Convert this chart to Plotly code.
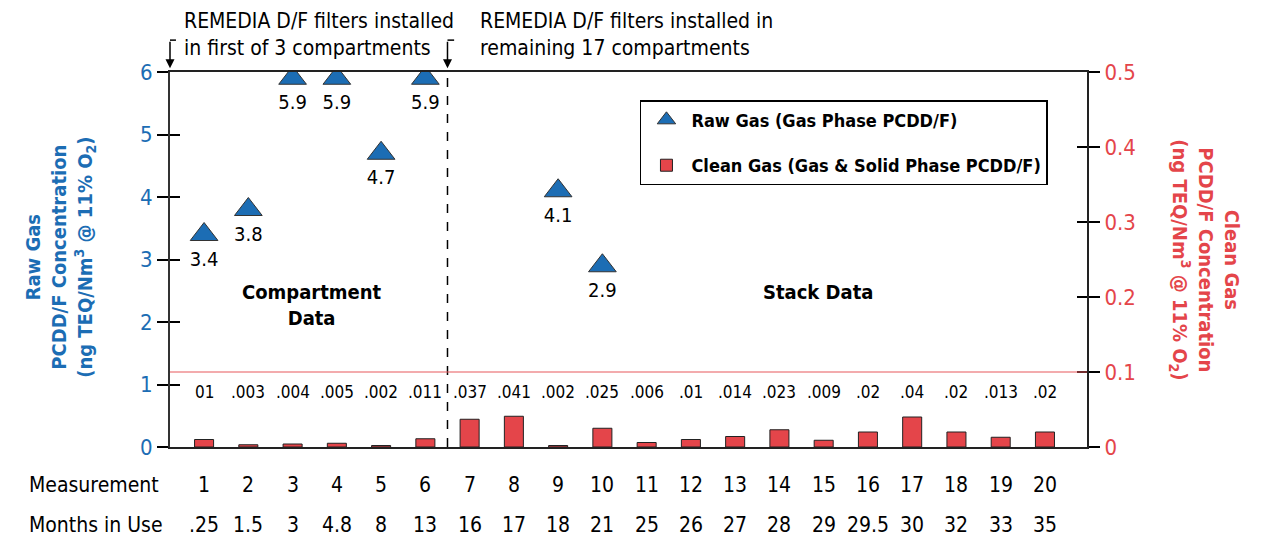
import plotly.graph_objects as go

measurements = list(range(1, 21))
months = [".25", "1.5", "3", "4.8", "8", "13", "16", "17", "18", "21",
          "25", "26", "27", "28", "29", "29.5", "30", "32", "33", "35"]
clean_gas = [0.01, 0.003, 0.004, 0.005, 0.002, 0.011, 0.037, 0.041, 0.002, 0.025,
             0.006, 0.01, 0.014, 0.023, 0.009, 0.02, 0.04, 0.02, 0.013, 0.02]
clean_labels = ["01", ".003", ".004", ".005", ".002", ".011", ".037", ".041", ".002", ".025",
                ".006", ".01", ".014", ".023", ".009", ".02", ".04", ".02", ".013", ".02"]
raw_x = [1, 2, 3, 4, 5, 6, 9, 10]
raw_gas = [3.4, 3.8, 5.9, 5.9, 4.7, 5.9, 4.1, 2.9]
raw_labels = ["3.4", "3.8", "5.9", "5.9", "4.7", "5.9", "4.1", "2.9"]

BLUE = "#1C6DB4"
RED = "#E4454A"
FONT = "DejaVu Sans Condensed, Liberation Sans Narrow, Arial Narrow, sans-serif"

fig = go.Figure()
fig.add_trace(go.Scatter(
    x=raw_x, y=raw_gas, mode="markers+text", text=raw_labels,
    textposition="bottom center", textfont=dict(size=20, color="black"),
    marker=dict(symbol="triangle-up", size=24, color=BLUE, line=dict(color="#333", width=1)),
    name="<b>Raw Gas (Gas Phase PCDD/F)</b>", legendgroup="raw", yaxis="y"))
fig.add_trace(go.Bar(
    x=measurements, y=clean_gas, width=0.43,
    marker=dict(color=RED, line=dict(color="#222", width=1)),
    name="<b>Clean Gas (Gas & Solid Phase PCDD/F)</b>", legendgroup="clean", yaxis="y2"))
# helper invisible traces for crossing ticks
fig.add_trace(go.Scatter(x=[1], y=[0], yaxis="y3", mode="markers",
                         marker=dict(opacity=0), showlegend=False, hoverinfo="skip"))
fig.add_trace(go.Scatter(x=[1], y=[0], yaxis="y4", mode="markers",
                         marker=dict(opacity=0), showlegend=False, hoverinfo="skip"))

annotations = []
for m, lab in zip(measurements, clean_labels):
    annotations.append(dict(x=m, y=0.147, xref="x", yref="paper", xanchor="center",
                            yanchor="middle", text=lab, showarrow=False,
                            font=dict(size=17, color="black", family=FONT)))
for m, mo in zip(measurements, months):
    annotations.append(dict(x=m, y=-0.101, xref="x", yref="paper", xanchor="center",
                            yanchor="middle", text=str(m), showarrow=False,
                            font=dict(size=21, color="black", family=FONT)))
    annotations.append(dict(x=m, y=-0.208, xref="x", yref="paper", xanchor="center",
                            yanchor="middle", text=mo, showarrow=False,
                            font=dict(size=21, color="black", family=FONT)))
annotations += [
    dict(x=-0.156, y=-0.101, xref="paper", yref="paper", xanchor="left", yanchor="middle",
         text="Measurement", showarrow=False, font=dict(size=21, color="black", family=FONT)),
    dict(x=-0.156, y=-0.208, xref="paper", yref="paper", xanchor="left", yanchor="middle",
         text="Months in Use", showarrow=False, font=dict(size=21, color="black", family=FONT)),
    dict(x=0.0131, y=1.101, xref="paper", yref="paper", xanchor="left", yanchor="middle", align="left",
         text="REMEDIA D/F filters installed<br>in first of 3 compartments", showarrow=False,
         font=dict(size=21, color="black", family=FONT)),
    dict(x=0.3359, y=1.101, xref="paper", yref="paper", xanchor="left", yanchor="middle", align="left",
         text="REMEDIA D/F filters installed in<br>remaining 17 compartments", showarrow=False,
         font=dict(size=21, color="black", family=FONT)),
    dict(x=3.44, y=2.27, xref="x", yref="y", text="<b>Compartment<br>Data</b>", showarrow=False,
         font=dict(size=20, color="black", family=FONT)),
    dict(x=14.87, y=2.48, xref="x", yref="y", text="<b>Stack Data</b>", showarrow=False,
         font=dict(size=20, color="black", family=FONT)),
    dict(x=-0.12, y=0.507, xref="paper", yref="paper", xanchor="center", yanchor="middle",
         textangle=-90,
         text="<b>Raw Gas<br>PCDD/F Concentration<br>(ng TEQ/Nm<sup>3</sup> @ 11% O<sub>2</sub>)</b>",
         showarrow=False, font=dict(size=20, color=BLUE, family=FONT)),
    dict(x=1.129, y=0.50, xref="paper", yref="paper", xanchor="center", yanchor="middle",
         textangle=90,
         text="<b>Clean Gas<br>PCDD/F Concentration<br>(ng TEQ/Nm<sup>3</sup> @ 11% O<sub>2</sub>)</b>",
         showarrow=False, font=dict(size=20, color=RED, family=FONT)),
    # arrows
    dict(x=0, y=1.01, xref="paper", yref="paper", ax=0, ay=-28, text="", showarrow=True,
         arrowhead=2, arrowsize=1.2, arrowwidth=1.5, arrowcolor="black"),
    dict(x=6.5, y=1.01, xref="x", yref="paper", ax=0, ay=-28, text="", showarrow=True,
         arrowhead=2, arrowsize=1.2, arrowwidth=1.5, arrowcolor="black"),
]

shapes = [
    dict(type="line", xref="x", yref="paper", x0=6.5, x1=6.5, y0=0, y1=1.0,
         line=dict(color="black", width=1.5, dash="dash")),
    dict(type="line", xref="paper", yref="y2", x0=0, x1=1, y0=0.1, y1=0.1,
         line=dict(color="#E8585C", width=1.2)),
    dict(type="line", xref="paper", yref="paper", x0=0, x1=0.0065, y0=1.085, y1=1.085,
         line=dict(color="black", width=1.5)),
    dict(type="line", xref="x", yref="paper", x0=6.5, x1=6.65, y0=1.085, y1=1.085,
         line=dict(color="black", width=1.5)),
]

fig.update_layout(
    width=1262, height=537,
    margin=dict(l=170, r=175, t=72, b=90),
    paper_bgcolor="white", plot_bgcolor="white",
    font=dict(family=FONT, color="black"),
    showlegend=True,
    legend=dict(x=0.5125, y=0.925, xanchor="left", yanchor="top",
                bordercolor="black", borderwidth=1.5, bgcolor="white",
                font=dict(size=18, family=FONT, color="black"),
                itemsizing="trace", tracegroupgap=19, itemwidth=40),
    xaxis=dict(range=[0.23, 20.95], showticklabels=False, ticks="", showgrid=False,
               zeroline=False, showline=True, mirror=True, linecolor="#222", linewidth=2),
    yaxis=dict(range=[0, 6], dtick=1, showgrid=False, zeroline=False, showline=True,
               linecolor="#333", linewidth=2, ticks="outside", ticklen=11, tickcolor="black",
               tickwidth=1.5, tickfont=dict(size=22, color=BLUE, family=FONT)),
    yaxis2=dict(range=[0, 0.5], dtick=0.1, overlaying="y", side="right", showgrid=False,
                zeroline=False, showline=True, linecolor="#222", linewidth=2, ticks="outside",
                ticklen=11, tickcolor="black", tickwidth=1.5,
                tickfont=dict(size=22, color=RED, family=FONT)),
    yaxis3=dict(range=[0, 6], dtick=1, overlaying="y", side="left", showgrid=False,
                zeroline=False, showline=False, ticks="inside", ticklen=10, tickcolor="black",
                tickwidth=1.5, showticklabels=False),
    yaxis4=dict(range=[0, 0.5], dtick=0.1, overlaying="y", side="right", showgrid=False,
                zeroline=False, showline=False, ticks="inside", ticklen=10, tickcolor="black",
                tickwidth=1.5, showticklabels=False),
    annotations=annotations, shapes=shapes,
)

fig.write_html("out.html", config={"displayModeBar": False},
               post_script="document.body.style.margin='0';")
